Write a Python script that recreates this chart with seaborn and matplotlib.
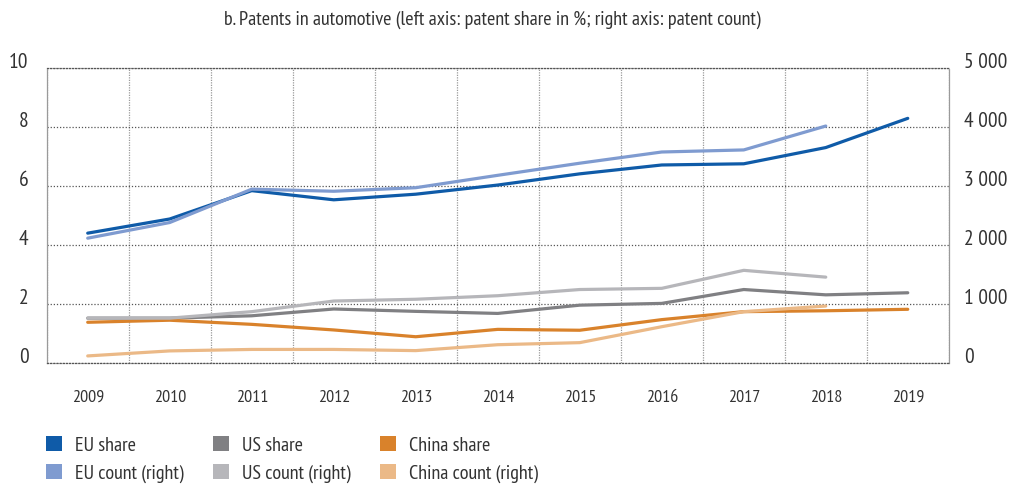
import matplotlib
matplotlib.use("Agg")
import matplotlib.pyplot as plt
from matplotlib import font_manager
from matplotlib.patches import Patch
import seaborn as sns
import pandas as pd

# Patent data, automotive sector
years = [2009, 2010, 2011, 2012, 2013, 2014, 2015, 2016, 2017, 2018, 2019]
eu_share = [4.41, 4.89, 5.85, 5.54, 5.73, 6.04, 6.42, 6.72, 6.76, 7.31, 8.30]
us_share = [1.53, 1.53, 1.61, 1.84, 1.76, 1.69, 1.97, 2.03, 2.50, 2.32, 2.39]
cn_share = [1.39, 1.46, 1.32, 1.13, 0.90, 1.15, 1.12, 1.48, 1.75, 1.78, 1.83]
eu_count = [2120, 2385, 2950, 2915, 2975, 3185, 3390, 3580, 3615, 4020, None]
us_count = [765, 765, 875, 1055, 1085, 1145, 1250, 1270, 1575, 1460, None]
cn_count = [125, 210, 235, 235, 215, 315, 350, 620, 875, 970, None]

left_ticks = [0, 2, 4, 6, 8, 10]
right_ticks = [0, 1000, 2000, 3000, 4000, 5000]
right_labels = ["0", "1 000", "2 000", "3 000", "4 000", "5 000"]

title = "b. Patents in automotive (left axis: patent share in %; right axis: patent count)"

colors = {
    "EU share": "#0f5ba8",
    "EU count (right)": "#7f9bd0",
    "US share": "#808083",
    "US count (right)": "#b6b6ba",
    "China share": "#d9822b",
    "China count (right)": "#ebb987",
}

sns.set_theme(style="white")

# narrow sans-serif face, first one available
installed = {f.name for f in font_manager.fontManager.ttflist}
preferred = ["PT Sans Narrow", "Fira Sans Condensed", "Roboto Condensed",
             "IBM Plex Sans Condensed", "DejaVu Sans"]
face = next(n for n in preferred if n in installed)
plt.rcParams["font.family"] = [face, "DejaVu Sans"]
text_color = "#333333"

pos = list(range(len(years)))
df = pd.DataFrame({"pos": pos, "eu_share": eu_share, "us_share": us_share,
                   "cn_share": cn_share, "eu_count": eu_count,
                   "us_count": us_count, "cn_count": cn_count})

fig = plt.figure(figsize=(10.09, 4.87), dpi=100)
ax = fig.add_axes([0.0463, 0.254, 0.894, 0.606])
ax2 = ax.twinx()

lw = 2.3
sns.lineplot(data=df, x="pos", y="eu_share", ax=ax, color=colors["EU share"], lw=lw)
sns.lineplot(data=df, x="pos", y="us_share", ax=ax, color=colors["US share"], lw=lw)
sns.lineplot(data=df, x="pos", y="cn_share", ax=ax, color=colors["China share"], lw=lw)
sub = df.dropna()
sns.lineplot(data=sub, x="pos", y="eu_count", ax=ax2, color=colors["EU count (right)"], lw=lw)
sns.lineplot(data=sub, x="pos", y="us_count", ax=ax2, color=colors["US count (right)"], lw=lw)
sns.lineplot(data=sub, x="pos", y="cn_count", ax=ax2, color=colors["China count (right)"], lw=lw)

ax.set_xlim(-0.5, len(years) - 0.5)
ax.set_ylim(0, 10)
ax2.set_ylim(0, 5000)

ax.set_xticks(pos)
ax.set_xticklabels([str(y) for y in years], fontsize=13, color=text_color)
ax.set_xticks([p - 0.5 for p in pos] + [len(years) - 0.5], minor=True)
ax.set_yticks(left_ticks)
ax.set_yticklabels([str(t) for t in left_ticks], fontsize=15.5, color=text_color, va="baseline")
ax2.set_yticks(right_ticks)
ax2.set_yticklabels(right_labels, fontsize=15.5, color=text_color, va="baseline")

ax.tick_params(axis="x", which="both", length=0, pad=19)
ax.tick_params(axis="y", length=0, pad=13)
ax2.tick_params(axis="y", length=0, pad=11)

ax.set_xlabel("")
ax.set_ylabel("")
ax2.set_ylabel("")

# dotted grid: darker horizontal rules, lighter vertical separators
ax.grid(axis="y", which="major", color="#555555", linestyle=(0, (1, 1.5)), lw=0.9)
ax.grid(axis="x", which="minor", color="#9a9a9a", linestyle=(0, (1, 1)), lw=0.9)
ax.grid(axis="x", which="major", visible=False)
ax.set_axisbelow(True)
for side in ["left", "right"]:
    ax.spines[side].set_visible(True)
    ax.spines[side].set_color("#9a9a9a")
    ax.spines[side].set_linestyle((0, (1, 1)))
    ax.spines[side].set_linewidth(0.9)
for side in ["top", "bottom"]:
    ax.spines[side].set_visible(True)
    ax.spines[side].set_color("#555555")
    ax.spines[side].set_linestyle((0, (1, 1.5)))
    ax.spines[side].set_linewidth(0.9)
for s in ax2.spines.values():
    s.set_visible(False)

fig.text(492 / 1009, 1 - 20 / 487, title, ha="center", va="center",
         fontsize=14.5, color=text_color)

order = ["EU share", "EU count (right)", "US share", "US count (right)",
         "China share", "China count (right)"]
handles = [Patch(facecolor=colors[k], edgecolor="none", label=k) for k in order]
fig.legend(handles=handles, loc="upper left", bbox_to_anchor=(46 / 1009, 1 - 436 / 487),
           ncol=3, frameon=False, fontsize=14.5, handlelength=0.8, handleheight=0.8,
           handletextpad=0.65, columnspacing=1.45, labelspacing=0.45,
           borderpad=0, borderaxespad=0, labelcolor=text_color)

fig.savefig("out.png", dpi=100)
